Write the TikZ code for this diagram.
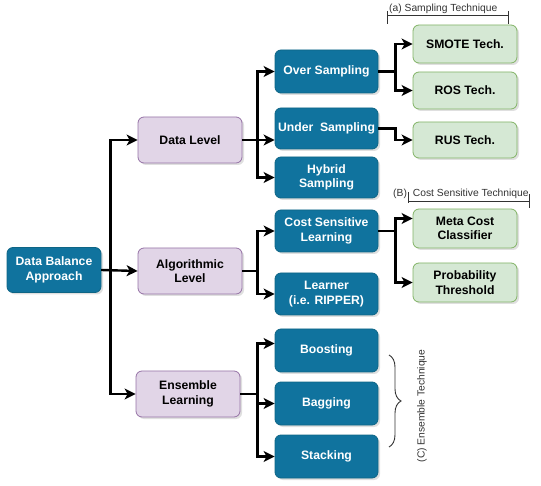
\documentclass[tikz,border=0pt]{standalone}
\usepackage{fontspec}
\setmainfont{Liberation Sans}
\usetikzlibrary{arrows.meta,shadows,decorations.pathreplacing}
\definecolor{dblue}{HTML}{10739E}
\definecolor{dbluel}{HTML}{0E6585}
\definecolor{pfill}{HTML}{E1D5E7}
\definecolor{pline}{HTML}{9673A6}
\definecolor{gfill}{HTML}{D5E8D4}
\definecolor{gline}{HTML}{82B366}
\definecolor{lbl}{HTML}{333333}
\tikzset{
  base/.style={rounded corners=6pt, align=center, inner sep=0pt, line width=0.8pt,
    font=\fontsize{12.2}{14.5}\selectfont\bfseries,
    drop shadow={opacity=0.25, shadow xshift=2pt, shadow yshift=-2pt}},
  bluebox/.style={base, fill=dblue, draw=dbluel, text=white},
  purplebox/.style={base, fill=pfill, draw=pline, text=black},
  greenbox/.style={base, fill=gfill, draw=gline, text=black},
  arr/.style={line width=2.4pt, -{Stealth[length=11pt,width=11pt,inset=3pt]}},
  lab/.style={font=\fontsize{10.3}{12}\selectfont, text=lbl, inner sep=0pt},
  brk/.style={line width=0.9pt, draw=lbl}
}
\begin{document}
\begin{tikzpicture}[x=1pt,y=-1pt]
\useasboundingbox (0,0) rectangle (541,486);
% root
\node[bluebox, minimum width=94pt, minimum height=45pt] (dba) at (54,270) {Data Balance\\Approach};
% level 1
\node[purplebox, minimum width=104pt, minimum height=46pt] (dl) at (190,140) {Data Level};
\node[purplebox, minimum width=104pt, minimum height=46pt] (al) at (190,271) {Algorithmic\\Level};
\node[purplebox, minimum width=104pt, minimum height=46pt] (el) at (188,394) {Ensemble\\Learning};
% level 2
\node[bluebox, minimum width=103pt, minimum height=43pt] (os) at (326.5,71.5) {Over Sampling};
\node[bluebox, minimum width=103pt, minimum height=41pt] (us) at (326.5,128.5) {Under\ \ Sampling};
\node[bluebox, minimum width=103pt, minimum height=41pt] (hs) at (326.5,177.5) {Hybrid\\Sampling};
\node[bluebox, minimum width=103pt, minimum height=42pt] (csl) at (326.5,231) {Cost Sensitive\\Learning};
\node[bluebox, minimum width=103pt, minimum height=42pt] (lr) at (326.5,294) {Learner\\(i.e. RIPPER)};
\node[bluebox, minimum width=103pt, minimum height=43pt] (bo) at (326.5,350.5) {Boosting};
\node[bluebox, minimum width=103pt, minimum height=43pt] (ba) at (326.5,403.5) {Bagging};
\node[bluebox, minimum width=103pt, minimum height=43pt] (st) at (326.5,456.5) {Stacking};
% level 3
\node[greenbox, minimum width=104pt, minimum height=38pt] (smote) at (465,44) {SMOTE Tech.};
\node[greenbox, minimum width=104pt, minimum height=37pt] (ros) at (465,90.5) {ROS Tech.};
\node[greenbox, minimum width=104pt, minimum height=36pt] (rus) at (465,140) {RUS Tech.};
\node[greenbox, minimum width=104pt, minimum height=39pt] (meta) at (465,228.5) {Meta Cost\\Classifier};
\node[greenbox, minimum width=104pt, minimum height=39pt] (prob) at (465,282.5) {Probability\\Threshold};
% connectors root
\draw[arr] (dba.east) -- ++(9,0) |- (dl.west);
\draw[arr] (dba.east) -- (al.west);
\draw[arr] (dba.east) -- ++(9,0) |- (el.west);
% data level
\draw[arr] (dl.east) -- ++(15,0) |- (os.west);
\draw[arr] (dl.east) -- (us.west |- dl.east);
\draw[arr] (dl.east) -- ++(15,0) |- (hs.west);
% algorithmic
\draw[arr] (al.east) -- ++(15,0) |- (csl.west);
\draw[arr] (al.east) -- ++(15,0) |- (lr.west);
% ensemble
\draw[arr] (el.east) -- ++(17,0) |- ([yshift=7pt]bo.west);
\draw[arr] (el.east) -- ++(17,0) |- (ba.west);
\draw[arr] (el.east) -- ++(17,0) |- (st.west);
% level 2 to 3
\draw[arr] (os.east) -- ++(17,0) |- (smote.west);
\draw[arr] (os.east) -- ++(17,0) |- (ros.west);
\draw[arr] (us.east) -- ++(17,0) |- (rus.west);
\draw[arr] (csl.east) -- ++(17,0) |- ([yshift=10pt]meta.west);
\draw[arr] (csl.east) -- ++(17,0) |- (prob.west);
% brackets and labels
\draw[brk] (387,11) -- (387,24) (387,15) -- (508,15) (508,11) -- (508,24);
\node[lab, anchor=south west] (la) at (389,14) {(a) Sampling Technique};
\draw[brk] (408,192) -- (408,203) (408,201) -- (529,201) (529,194) -- (529,208);
\node[lab, anchor=south west] (lb) at (393,199) {(B)\hspace{6pt}Cost Sensitive Technique};
\draw[brk, decorate, decoration={brace, amplitude=12pt}] (389,355) -- (389,447);
\node[lab, rotate=90] (lc) at (422,406) {(C) Ensemble Technique};
\end{tikzpicture}
\end{document}
